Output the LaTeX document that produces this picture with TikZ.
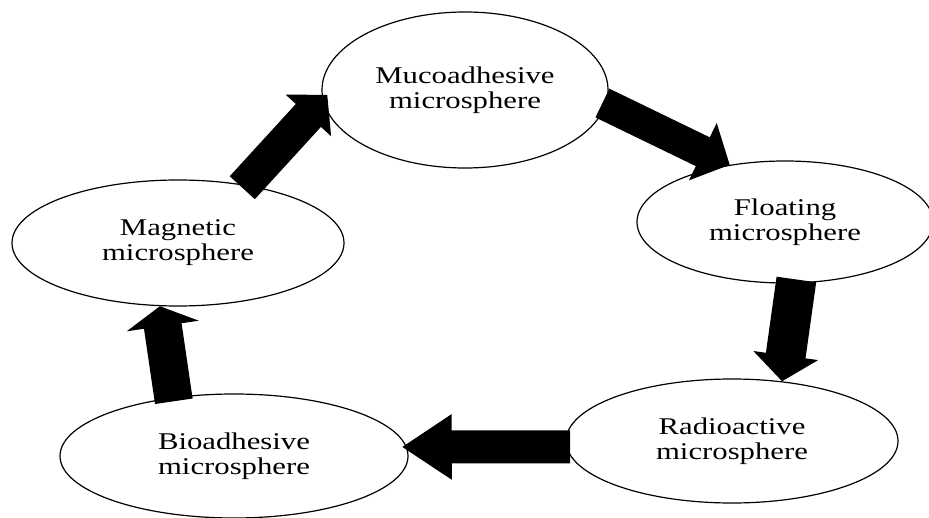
\documentclass[tikz,border=0pt]{standalone}
\usepackage{fontspec}
\setmainfont[FakeStretch=1.28]{Liberation Serif}
\usetikzlibrary{arrows.meta,shapes.geometric}
\begin{document}
\begin{tikzpicture}[x=1pt,y=-1pt,
  bubble/.style={ellipse,draw=black,line width=1.2pt,fill=white,inner sep=0pt,
    align=center,font=\fontsize{24}{25}\selectfont,text=black},
  blockarrow/.style args={#1/#2/#3}{line width=#1,
    -{Triangle[width=#2,length=#3]},shorten <=-4pt}]
\useasboundingbox (0,0) rectangle (929,518);
\node[bubble,minimum width=286pt,minimum height=156pt] (muco) at (465,90) {Mucoadhesive\\microsphere};
\node[bubble,minimum width=296pt,minimum height=122pt] (float) at (785,222) {Floating\\microsphere};
\node[bubble,minimum width=332pt,minimum height=124pt] (radio) at (732,441) {Radioactive\\microsphere};
\node[bubble,minimum width=348pt,minimum height=124pt] (bio) at (234,456) {Bioadhesive\\microsphere};
\node[bubble,minimum width=332pt,minimum height=126pt] (mag) at (178,243) {Magnetic\\microsphere};
\draw[blockarrow=32pt/62pt/30pt] (muco.-6.5) -- (float.134.5);
\draw[blockarrow=40pt/64pt/26pt] (float.-80) -- (radio.50);
\draw[blockarrow=33pt/62pt/50pt,shorten >=-5pt] (radio.-178) -- (bio.3);
\draw[blockarrow=38pt/72pt/20pt] (bio.136) -- (mag.-106);
\draw[blockarrow=34pt/60pt/28pt,shorten >=-7pt] (mag.41) -- (muco.-176);
\end{tikzpicture}
\end{document}
